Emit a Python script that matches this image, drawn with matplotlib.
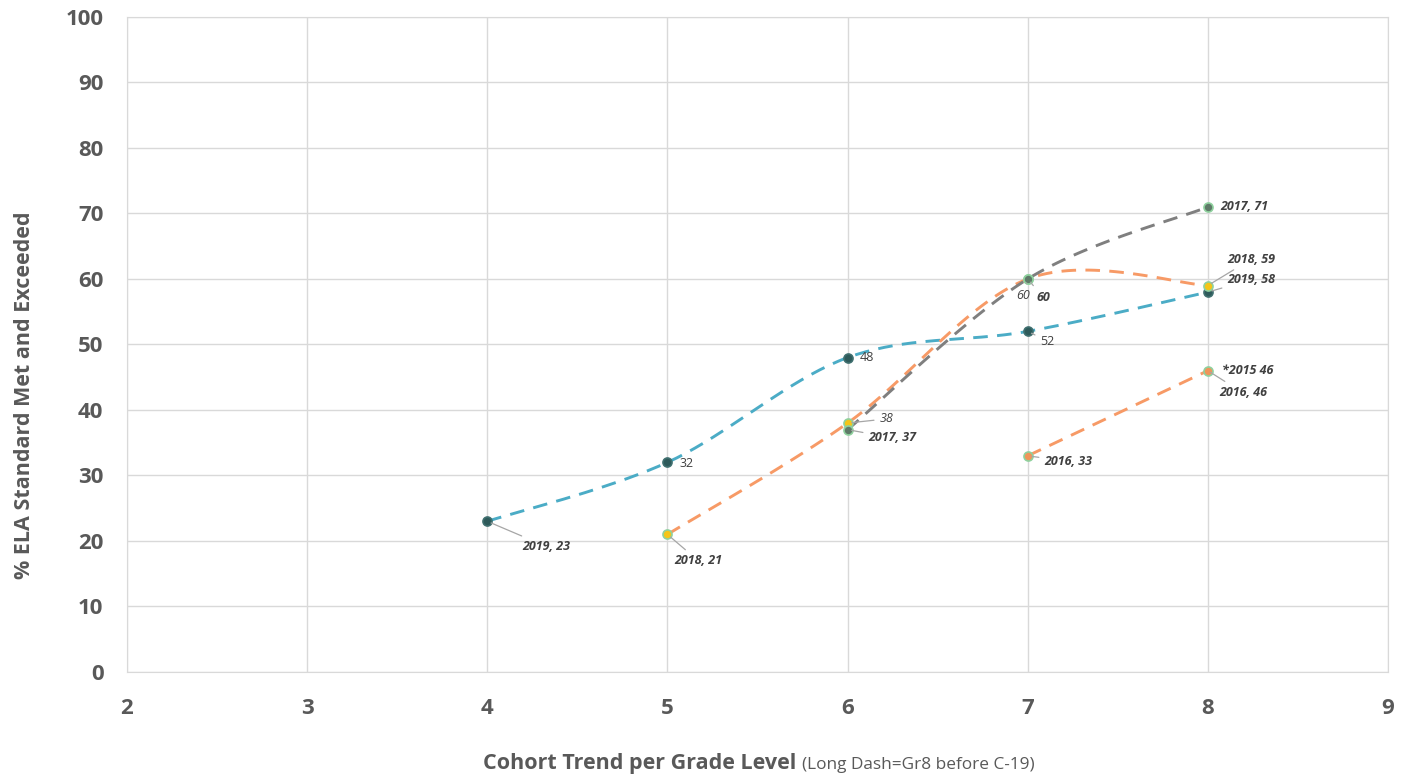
import numpy as np
import matplotlib.pyplot as plt

plt.rcParams['font.family'] = ['Open Sans', 'DejaVu Sans']

# cohort data: grade levels and % met/exceeded
grades_2019 = [4, 5, 6, 7, 8]
vals_2019 = [23, 32, 48, 52, 58]
grades_2018 = [5, 6, 7, 8]
vals_2018 = [21, 38, 60, 59]
grades_2017 = [6, 7, 8]
vals_2017 = [37, 60, 71]
grades_2016 = [7, 8]
vals_2016 = [33, 46]

labels_2019 = ['2019, 23', '32', '48', '52', '2019, 58']
labels_2018 = ['2018, 21', '38', '60', '2018, 59']
labels_2017 = ['2017, 37', '60', '2017, 71']
labels_2016 = ['2016, 33', '*2015 46']

TXT = '#595959'
GRID = '#d9d9d9'


def smooth(xs, ys, n=40):
    # Bezier smoothing like a spreadsheet "smoothed line"
    p = np.column_stack([xs, ys]).astype(float)
    if len(p) < 3:
        return p[:, 0], p[:, 1]
    ext = np.vstack([p[0], p, p[-1]])
    out = []
    t = np.linspace(0, 1, n)[:, None]
    for i in range(len(p) - 1):
        p0, p1, p2, p3 = ext[i], ext[i + 1], ext[i + 2], ext[i + 3]
        c1 = p1 + (p2 - p0) / 6
        c2 = p2 - (p3 - p1) / 6
        seg = ((1 - t) ** 3) * p1 + 3 * ((1 - t) ** 2) * t * c1 + 3 * (1 - t) * t ** 2 * c2 + t ** 3 * p2
        out.append(seg if i == 0 else seg[1:])
    out = np.vstack(out)
    return out[:, 0], out[:, 1]


fig = plt.figure(figsize=(14.08, 7.79), dpi=100)
ax = fig.add_axes([0.0902, 0.1374, 0.8956, 0.8408])

series = [
    (grades_2019, vals_2019, '#4bacc6', '#2e5a5a', '#3f6f6f'),
    (grades_2018, vals_2018, '#f79a66', '#f5c518', '#8fd19e'),
    (grades_2017, vals_2017, '#7f7f7f', '#5f7a68', '#8fd19e'),
    (grades_2016, vals_2016, '#f79a66', '#f0955a', '#8fd19e'),
]
for xs, ys, lc, mfc, mec in series:
    sx, sy = smooth(xs, ys)
    ax.plot(sx, sy, color=lc, lw=2.1, dashes=(5, 3.2), zorder=3)
    ax.plot(xs, ys, 'o', ms=6.5, mfc=mfc, mec=mec, mew=1.2, zorder=4)

# label offsets (points) from each marker; (dx, dy, bold, italic, leader)
offs_2019 = [(25, -18, True, True, True), (9, -1, False, False, False),
             (9, 0, False, False, False), (9, -7, False, False, True),
             (14, 9, True, True, True)]
offs_2018 = [(5, -19, True, True, True), (23, 3, False, True, True),
             (-8, -12, False, True, True), (14, 19, True, True, True)]
offs_2017 = [(15, -6, True, True, True), (6, -13, True, True, True),
             (9, 0, True, True, False)]
offs_2016 = [(12, -4, True, True, True), (10, 0, True, True, False)]

groups = [(grades_2019, vals_2019, labels_2019, offs_2019),
          (grades_2018, vals_2018, labels_2018, offs_2018),
          (grades_2017, vals_2017, labels_2017, offs_2017),
          (grades_2016, vals_2016, labels_2016, offs_2016)]
for xs, ys, labs, offs in groups:
    for x, y, lab, (dx, dy, b, it, lead) in zip(xs, ys, labs, offs):
        ap = dict(arrowstyle='-', color='#a6a6a6', lw=0.9, shrinkA=2, shrinkB=3) if lead else None
        ax.annotate(lab, xy=(x, y), xytext=(dx, dy), textcoords='offset points',
                    ha='left', va='center', fontsize=9, color='#404040',
                    fontweight='bold' if b else 'normal',
                    fontstyle='italic' if it else 'normal',
                    arrowprops=ap, zorder=5)

# second label at grade 8 for the 2016 cohort
ax.annotate('2016, 46', xy=(grades_2016[-1], vals_2016[-1]), xytext=(8, -16),
            textcoords='offset points', ha='left', va='center', fontsize=9,
            color='#404040', fontweight='bold', fontstyle='italic',
            arrowprops=dict(arrowstyle='-', color='#a6a6a6', lw=0.9, shrinkA=3, shrinkB=2),
            zorder=5)

ax.set_xlim(2, 9)
ax.set_ylim(0, 100)
ax.set_xticks(range(2, 10))
ax.set_yticks(range(0, 101, 10))
ax.grid(True, color=GRID, lw=1)
ax.set_axisbelow(True)
for s in ax.spines.values():
    s.set_color(GRID)
ax.tick_params(length=0, labelsize=16, labelcolor=TXT)
ax.tick_params(axis='x', pad=19)
ax.tick_params(axis='y', pad=17)
for t in ax.get_xticklabels() + ax.get_yticklabels():
    t.set_fontweight('bold')

ax.set_ylabel('% ELA Standard Met and Exceeded', fontsize=15.5, fontweight='bold',
              color=TXT)
ax.yaxis.set_label_coords(-0.073, 0.423)

# x axis title in two styles
fig.canvas.draw()
r = fig.canvas.get_renderer()
t1 = fig.text(0.343, 0.013, 'Cohort Trend per Grade Level', fontsize=15.5,
              fontweight='bold', color=TXT, ha='left', va='baseline')
bb = t1.get_window_extent(renderer=r)
fig.text((bb.x1 + 6) / fig.bbox.width, 0.013, '(Long Dash=Gr8 before C-19)',
         fontsize=12.4, color=TXT, ha='left', va='baseline')

fig.savefig('out.png', dpi=100)
